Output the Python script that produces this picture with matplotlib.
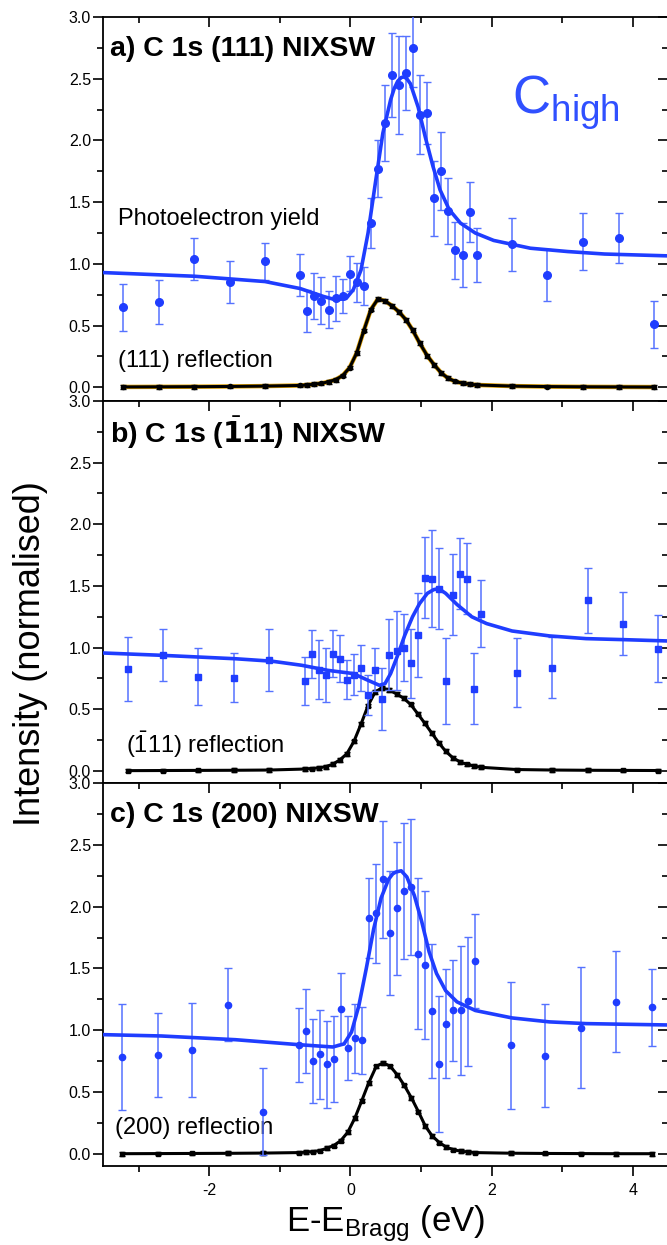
import numpy as np
import matplotlib
matplotlib.use("Agg")
import matplotlib.pyplot as plt

plt.rcParams['font.family'] = ['Liberation Sans', 'DejaVu Sans']
plt.rcParams['mathtext.fontset'] = 'custom'
plt.rcParams['mathtext.rm'] = 'Liberation Sans'
plt.rcParams['mathtext.it'] = 'Liberation Sans'
plt.rcParams['axes.unicode_minus'] = False

BLUE = '#1f3dff'
EBLUE = '#5572ff'
ORANGE = '#e0a000'

# ---- panel a: C 1s (111) ----
xa = [-3.22, -2.71, -2.21, -1.71, -1.21, -0.71, -0.61, -0.51, -0.41, -0.31, -0.21, -0.11,
      -0.01, 0.09, 0.19, 0.29, 0.39, 0.49, 0.59, 0.69, 0.79, 0.88, 0.98, 1.09, 1.19, 1.29,
      1.38, 1.48, 1.59, 1.69, 1.79, 2.29, 2.79, 3.30, 3.80, 4.30]
ya = [0.65, 0.69, 1.04, 0.85, 1.02, 0.91, 0.62, 0.74, 0.70, 0.63, 0.72, 0.74,
      0.92, 0.85, 0.82, 1.33, 1.77, 2.14, 2.53, 2.45, 2.55, 2.75, 2.21, 2.22, 1.53, 1.75,
      1.43, 1.11, 1.07, 1.42, 1.07, 1.16, 0.91, 1.18, 1.21, 0.51]
ea = [0.19, 0.18, 0.17, 0.17, 0.15, 0.17, 0.17, 0.19, 0.19, 0.15, 0.18, 0.14,
      0.14, 0.155, 0.155, 0.20, 0.23, 0.31, 0.34, 0.40, 0.30, 0.32, 0.32, 0.25, 0.30, 0.315,
      0.27, 0.23, 0.26, 0.24, 0.22, 0.215, 0.21, 0.23, 0.20, 0.19]
ra = [0.003, 0.004, 0.005, 0.007, 0.010, 0.015, 0.019, 0.025, 0.032, 0.045, 0.062, 0.095,
      0.16, 0.28, 0.46, 0.63, 0.716, 0.70, 0.66, 0.61, 0.545, 0.465, 0.36, 0.255, 0.18, 0.115,
      0.075, 0.048, 0.033, 0.025, 0.019, 0.010, 0.006, 0.004, 0.003, 0.002]
fxa = [-3.52, -2.21, -1.21, -0.71, -0.38, -0.21, -0.06, 0.04, 0.15, 0.25, 0.36, 0.46, 0.57,
       0.62, 0.67, 0.72, 0.76, 0.80, 0.85, 0.96, 1.06, 1.17, 1.27, 1.40, 1.56, 1.77, 2.03,
       2.55, 3.08, 3.60, 4.50]
fya = [0.93, 0.90, 0.857, 0.80, 0.736, 0.709, 0.72, 0.79, 0.95, 1.25, 1.68, 2.06, 2.33,
       2.42, 2.48, 2.51, 2.515, 2.50, 2.46, 2.27, 2.03, 1.79, 1.60, 1.44, 1.33, 1.25, 1.19,
       1.127, 1.10, 1.08, 1.065]

# ---- panel b: C 1s (-111) ----
xb = [-3.15, -2.65, -2.16, -1.65, -1.15, -0.65, -0.55, -0.45, -0.35, -0.25, -0.15, -0.05,
      0.05, 0.15, 0.25, 0.35, 0.45, 0.55, 0.655, 0.754, 0.853, 0.953, 1.05, 1.15, 1.25, 1.35,
      1.45, 1.555, 1.655, 1.754, 1.853, 2.356, 2.86, 3.36, 3.86, 4.36]
yb = [0.83, 0.94, 0.765, 0.757, 0.90, 0.73, 0.95, 0.82, 0.78, 0.95, 0.91, 0.74,
      0.78, 0.835, 0.616, 0.82, 0.584, 0.943, 0.976, 1.0, 0.873, 1.105, 1.568, 1.56, 1.478, 0.732,
      1.43, 1.60, 1.56, 0.668, 1.276, 0.797, 0.838, 1.384, 1.195, 0.992]
eb = [0.26, 0.21, 0.23, 0.20, 0.25, 0.195, 0.195, 0.24, 0.22, 0.19, 0.19, 0.16,
      0.165, 0.19, 0.16, 0.175, 0.25, 0.29, 0.32, 0.27, 0.28, 0.34, 0.325, 0.39, 0.33, 0.35,
      0.33, 0.29, 0.29, 0.285, 0.27, 0.28, 0.245, 0.265, 0.255, 0.27]
rb = [0.003, 0.004, 0.005, 0.006, 0.008, 0.016, 0.020, 0.025, 0.035, 0.055, 0.09, 0.14,
      0.24, 0.38, 0.53, 0.64, 0.675, 0.655, 0.625, 0.59, 0.54, 0.465, 0.39, 0.31, 0.23, 0.16,
      0.108, 0.073, 0.054, 0.040, 0.030, 0.012, 0.008, 0.006, 0.005, 0.004]
fxb = [-3.52, -2.68, -1.63, -1.11, -0.69, -0.32, 0.04, 0.25, 0.41, 0.49, 0.57, 0.67, 0.77,
       0.88, 0.98, 1.09, 1.18, 1.25, 1.35, 1.51, 1.72, 1.93, 2.29, 2.82, 3.34, 3.86, 4.50]
fyb = [0.957, 0.938, 0.91, 0.89, 0.857, 0.816, 0.79, 0.735, 0.695, 0.708, 0.79, 0.938, 1.10,
       1.25, 1.357, 1.44, 1.47, 1.478, 1.44, 1.35, 1.25, 1.195, 1.135, 1.095, 1.073, 1.065, 1.054]

# ---- panel c: C 1s (200) ----
xc = [-3.24, -2.73, -2.24, -1.74, -1.24, -0.73, -0.63, -0.53, -0.43, -0.335, -0.236, -0.136,
      -0.037, 0.063, 0.162, 0.26, 0.366, 0.466, 0.565, 0.665, 0.764, 0.864, 0.963, 1.063, 1.162,
      1.262, 1.36, 1.46, 1.56, 1.665, 1.764, 2.27, 2.76, 3.27, 3.77, 4.27]
yc = [0.784, 0.80, 0.843, 1.208, 0.343, 0.878, 0.997, 0.749, 0.805, 0.724, 0.768, 1.176,
      0.859, 0.935, 0.919, 1.908, 1.946, 2.22, 1.786, 1.986, 2.124, 2.16, 1.619, 1.527, 1.154,
      0.727, 1.054, 1.162, 1.162, 1.235, 1.562, 0.878, 0.795, 1.02, 1.232, 1.186]
ec = [0.43, 0.34, 0.38, 0.295, 0.35, 0.30, 0.34, 0.34, 0.36, 0.35, 0.35, 0.29,
      0.26, 0.28, 0.27, 0.32, 0.40, 0.47, 0.50, 0.54, 0.55, 0.55, 0.61, 0.60, 0.54,
      0.55, 0.44, 0.41, 0.52, 0.52, 0.38, 0.515, 0.415, 0.49, 0.41, 0.31]
rc = [0.002, 0.003, 0.004, 0.005, 0.007, 0.011, 0.014, 0.019, 0.027, 0.046, 0.068, 0.108,
      0.176, 0.29, 0.432, 0.576, 0.708, 0.738, 0.708, 0.64, 0.554, 0.454, 0.343, 0.224, 0.143,
      0.092, 0.054, 0.035, 0.022, 0.016, 0.011, 0.006, 0.004, 0.003, 0.002, 0.002]
fxc = [-3.52, -2.68, -1.63, -0.74, -0.25, -0.09, 0.016, 0.12, 0.225, 0.33, 0.435, 0.54, 0.60,
       0.644, 0.72, 0.80, 0.906, 1.01, 1.115, 1.22, 1.35, 1.51, 1.77, 2.29, 2.82, 3.34, 3.86, 4.50]
fyc = [0.965, 0.954, 0.924, 0.884, 0.865, 0.89, 0.986, 1.20, 1.50, 1.82, 2.07, 2.22, 2.265,
       2.28, 2.29, 2.24, 2.09, 1.88, 1.635, 1.46, 1.32, 1.23, 1.16, 1.10, 1.068, 1.054, 1.049, 1.043]

titles = ['a) C 1s (111) NIXSW', 'b) C 1s ($\\bar{\\mathbf{1}}$11) NIXSW', 'c) C 1s (200) NIXSW']
refl_labels = ['(111) reflection', '($\\bar{1}$11) reflection', '(200) reflection']
refl_x = [-3.30, -3.18, -3.34]

fig = plt.figure(figsize=(6.67, 12.45), dpi=100)
boxes = [(0.9863, 0.678), (0.678, 0.3711), (0.3711, 0.0635)]
ylows = [-0.11, -0.097, -0.097]
panels = [(xa, ya, ea, ra, fxa, fya, 'o', 5.5),
          (xb, yb, eb, rb, fxb, fyb, 's', 4.0),
          (xc, yc, ec, rc, fxc, fyc, 'o', 4.5)]
left, right = 0.155, 1.0015
yt = [0, 0.5, 1.0, 1.5, 2.0, 2.5, 3.0]

for i, (x, y, e, r, fx, fy, mk, ms) in enumerate(panels):
    top, bot = boxes[i]
    ax = fig.add_axes([left, bot, right - left, top - bot])

    # reflectivity (black)
    if i == 0:
        ax.plot(x, r, color=ORANGE, lw=3.2, zorder=2)
    ax.plot(x, r, color='black', lw=2.2, zorder=3)
    ax.errorbar(x, r, yerr=0.015, fmt='s' if i else 'o', ms=3, color='black',
                ecolor='black', elinewidth=1, capsize=2, zorder=4)

    # photoelectron yield (blue)
    ax.errorbar(x, y, yerr=e, fmt=mk, ms=ms, color=BLUE, ecolor=EBLUE,
                elinewidth=1.1, capsize=3, capthick=1, zorder=5)
    ax.plot(fx, fy, color=BLUE, lw=2.6, zorder=6)

    ax.set_xlim(-3.5, 4.5)
    ax.set_ylim(ylows[i], 3.0)
    ax.set_yticks(yt)
    ax.set_yticklabels(['%.1f' % v for v in yt])
    ax.set_yticks(np.arange(0.25, 3.0, 0.5), minor=True)
    ax.set_xticks([-2, 0, 2, 4])
    ax.set_xticks([-3, -1, 1, 3], minor=True)
    ax.tick_params(axis='y', which='major', direction='out', length=7, width=1.2,
                   labelsize=11.5, pad=2)
    ax.tick_params(axis='y', which='minor', direction='out', length=4, width=1.2)
    ax.tick_params(axis='y', which='both', right=True)
    ax.tick_params(axis='x', which='both', top=True, width=1.2)
    ax.tick_params(axis='x', which='major', length=7, labelsize=11.5, pad=5)
    ax.tick_params(axis='x', which='minor', length=4)
    # right and top ticks point inward
    for tl in ax.yaxis.get_majorticklines()[1::2] + ax.yaxis.get_minorticklines()[1::2]:
        tl.set_marker(matplotlib.lines.TICKLEFT)
    for tl in ax.xaxis.get_majorticklines()[1::2] + ax.xaxis.get_minorticklines()[1::2]:
        tl.set_marker(matplotlib.lines.TICKDOWN)
    if i < 2:
        ax.tick_params(axis='x', which='both', bottom=False, labelbottom=False)
    for s in ax.spines.values():
        s.set_linewidth(1.3)

    ax.text(-3.41, 2.74, titles[i], fontsize=20.5, fontweight='bold', va='center', ha='left')
    ax.text(refl_x[i], 0.21, refl_labels[i], fontsize=17, va='center', ha='left')
    if i == 0:
        ax.text(-3.30, 1.36, 'Photoelectron yield', fontsize=17, va='center', ha='left')
        ax.text(2.29, 2.22, 'C$_{\\mathrm{high}}$', fontsize=38, color='#3050ff',
                va='baseline', ha='left')
    if i == 2:
        ax.set_xlabel('E-E$_{\\mathrm{Bragg}}$ (eV)', fontsize=25, labelpad=4)

fig.text(0.045, 0.475, 'Intensity (normalised)', rotation=90, fontsize=26,
         va='center', ha='center')

fig.savefig('out.png', dpi=100)
